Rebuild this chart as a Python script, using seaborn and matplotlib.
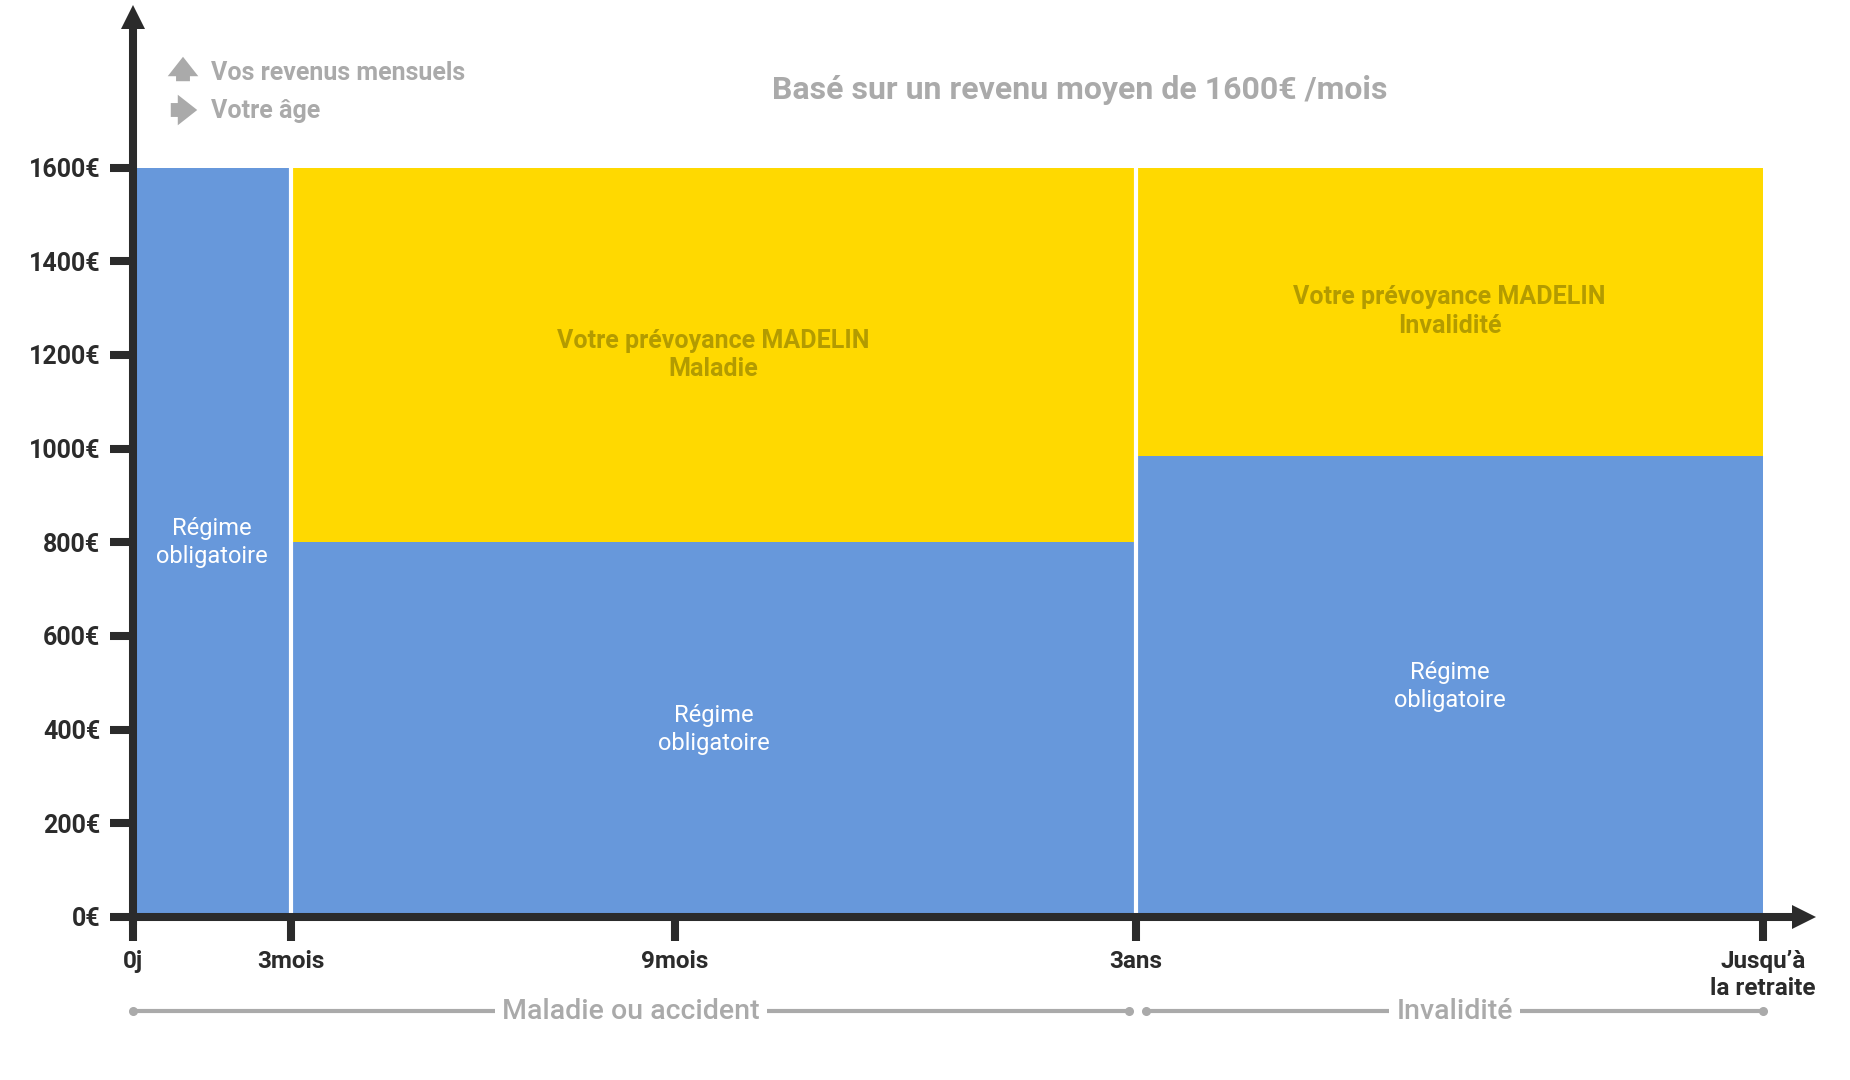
import matplotlib
matplotlib.use("Agg")
import matplotlib.pyplot as plt
import seaborn as sns
import pandas as pd

# ---------------- data ----------------
periods = ["0j", "3mois", "9mois", "3ans", "Jusqu’à\nla retraite"]
seg_start = [0, 1, 3]           # index in periods where each segment starts
seg_end = [1, 3, 4]             # index in periods where each segment ends
regime_values = [1600, 800, 985]
madelin_values = [0, 800, 615]
regime_labels = ["Régime\nobligatoire", "Régime\nobligatoire", "Régime\nobligatoire"]
madelin_labels = ["", "Votre prévoyance MADELIN\nMaladie", "Votre prévoyance MADELIN\nInvalidité"]
y_ticks = [0, 200, 400, 600, 800, 1000, 1200, 1400, 1600]
y_tick_labels = [f"{v}€" for v in y_ticks]
phases = ["Maladie ou accident", "Invalidité"]
phase_start = [0, 3]
phase_end = [3, 4]
title = "Basé sur un revenu moyen de 1600€ /mois"
legend_texts = ["Vos revenus mensuels", "Votre âge"]

# ---------------- layout ----------------
tick_pos = [0, 1.58, 5.42, 10.03, 16.30]   # horizontal placement of age ticks
x_max = 16.84
y_max = 1945

BLUE = "#6798DB"
YELLOW = "#FFD900"
DARK = "#2b2b2b"
GREY = "#aaaaaa"
OLIVE = "#b39b00"
FONT = "Roboto"

sns.set_theme(style="white")
plt.rcParams["font.family"] = [FONT, "DejaVu Sans"]

W, H = 1850, 1080
fig = plt.figure(figsize=(W / 100, H / 100), dpi=100)
ax = fig.add_axes([133 / W, (H - 917) / H, (1817 - 133) / W, (917 - 6) / H])

rows = []
for i in range(len(seg_start)):
    x = tick_pos[seg_start[i]]
    rows.append({"x": x, "w": regime_values[i], "part": "Régime obligatoire"})
    rows.append({"x": x, "w": madelin_values[i], "part": "MADELIN"})
df = pd.DataFrame(rows)
bin_edges = [tick_pos[i] for i in seg_start] + [tick_pos[seg_end[-1]]]

sns.histplot(data=df, x="x", weights="w", hue="part",
             hue_order=["MADELIN", "Régime obligatoire"],
             palette={"Régime obligatoire": BLUE, "MADELIN": YELLOW},
             bins=bin_edges, multiple="stack", alpha=1, linewidth=0,
             edgecolor="none", legend=False, ax=ax)

ax.set_xlim(0, x_max)
ax.set_ylim(0, y_max)
ax.set_xlabel("")
ax.set_ylabel("")
for s in ax.spines.values():
    s.set_visible(False)

# white separators between periods
for i in seg_start[1:]:
    ax.plot([tick_pos[i], tick_pos[i]], [0, 1600], color="white", lw=3,
            solid_capstyle="butt", zorder=3)

# ticks
ax.set_yticks(y_ticks, y_tick_labels)
ax.set_xticks(tick_pos, periods)
ax.tick_params(axis="y", length=16.5, width=5.8, color=DARK, pad=7, labelsize=18,
               labelcolor=DARK, left=True)
ax.tick_params(axis="x", length=17, width=5.8, color=DARK, pad=7, labelsize=17.5,
               labelcolor=DARK, bottom=True)
for lab in ax.get_yticklabels() + ax.get_xticklabels():
    lab.set_fontweight("bold")
    lab.set_linespacing(1.2)

# axis arrows
ax.plot([-0.0025, 0.985], [0, 0], transform=ax.transAxes, color=DARK, lw=5.8,
        solid_capstyle="butt", clip_on=False, zorder=5)
ax.plot([0.9925], [0], transform=ax.transAxes, marker=">", ms=17, color=DARK,
        clip_on=False, zorder=5, markeredgewidth=0)
ax.plot([0, 0], [-0.009, 0.975], transform=ax.transAxes, color=DARK, lw=5.8,
        solid_capstyle="butt", clip_on=False, zorder=5)
ax.plot([0], [0.9875], transform=ax.transAxes, marker="^", ms=17, color=DARK,
        clip_on=False, zorder=5, markeredgewidth=0)

# segment labels
for i in range(len(seg_start)):
    xc = (tick_pos[seg_start[i]] + tick_pos[seg_end[i]]) / 2
    ax.text(xc, regime_values[i] / 2, regime_labels[i], ha="center", va="center",
            color="white", fontsize=17, linespacing=1.3, zorder=4)
    if madelin_values[i] > 0:
        ax.text(xc, regime_values[i] + madelin_values[i] / 2, madelin_labels[i],
                ha="center", va="center", color=OLIVE, fontsize=18,
                fontweight="bold", linespacing=1.25, zorder=4)

# phase brackets
y_br = -201
for i in range(len(phases)):
    x0 = tick_pos[phase_start[i]] + (0.1 if i > 0 else 0)
    x1 = tick_pos[phase_end[i]] - (0.07 if i == 0 else 0)
    ax.plot([x0, x1], [y_br, y_br], color=GREY, lw=3, clip_on=False,
            marker="o", ms=5.5, markevery=[0, 1], solid_capstyle="butt")
    ax.text((x0 + x1) / 2, y_br, phases[i], ha="center", va="center",
            color=GREY, fontsize=20.5, fontweight="medium", clip_on=False,
            bbox=dict(facecolor="white", edgecolor="none", pad=5))

# title
fig.text(1080 / W, 1 - 90 / H, title, ha="center", va="center", color=GREY,
         fontsize=23, fontweight="bold")

# legend arrows and text
fig.add_artist(matplotlib.patches.FancyArrowPatch(
    (183 / W, 1 - 84 / H), (183 / W, 1 - 54 / H), transform=fig.transFigure,
    arrowstyle="simple,head_length=0.7,head_width=1.1,tail_width=0.5",
    mutation_scale=20, color=GREY, lw=0))
fig.add_artist(matplotlib.patches.FancyArrowPatch(
    (168 / W, 1 - 110 / H), (200 / W, 1 - 110 / H), transform=fig.transFigure,
    arrowstyle="simple,head_length=0.7,head_width=1.1,tail_width=0.5",
    mutation_scale=20, color=GREY, lw=0))
fig.text(211 / W, 1 - 73 / H, legend_texts[0], ha="left", va="center",
         color=GREY, fontsize=18, fontweight="bold")
fig.text(211 / W, 1 - 111 / H, legend_texts[1], ha="left", va="center",
         color=GREY, fontsize=18, fontweight="bold")

fig.savefig("out.png", dpi=100, facecolor="white")
